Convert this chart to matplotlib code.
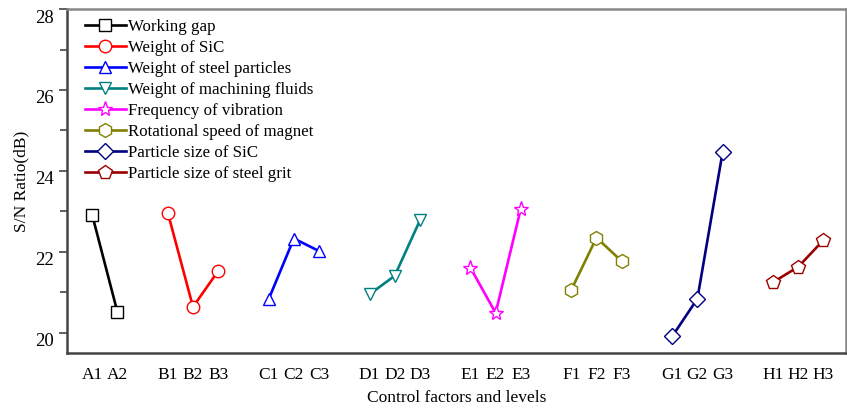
import matplotlib.pyplot as plt
import matplotlib.transforms as mtransforms
from matplotlib.ticker import MultipleLocator

plt.rcParams['font.family'] = ['Liberation Serif', 'DejaVu Serif']

factors = ["Working gap", "Weight of SiC", "Weight of steel particles",
           "Weight of machining fluids", "Frequency of vibration",
           "Rotational speed of magnet", "Particle size of SiC",
           "Particle size of steel grit"]
levels = [["A1", "A2"], ["B1", "B2", "B3"], ["C1", "C2", "C3"], ["D1", "D2", "D3"],
          ["E1", "E2", "E3"], ["F1", "F2", "F3"], ["G1", "G2", "G3"], ["H1", "H2", "H3"]]
sn = [[22.92, 20.52],
      [22.97, 20.64, 21.53],
      [20.83, 22.33, 22.02],
      [20.95, 21.41, 22.78],
      [21.61, 20.49, 23.07],
      [21.06, 22.35, 21.77],
      [19.91, 20.84, 24.46],
      [21.25, 21.63, 22.29]]
colors = ["#000000", "#ff0000", "#0000ff", "#008080", "#ff00ff",
          "#808000", "#000080", "#990000"]
markers = ["s", "o", "^", "v", "*", "h", "D", "p"]

fig = plt.figure(figsize=(8.47, 4.11), dpi=100)
ax = fig.add_axes([0.079, 0.141, 0.92, 0.837])

pos = 0
ticks, ticklabels = [], []
for name, lv, vals, c, m in zip(factors, levels, sn, colors, markers):
    xs = list(range(pos, pos + len(vals)))
    ms = {"*": 11, "h": 10, "p": 10, "D": 8, "s": 8}.get(m, 9)
    ax.plot(xs, vals, color=c, lw=1.9, marker=m, ms=ms, mfc="white",
            mec=c, mew=1.0, label=name)
    ticks += xs
    ticklabels += lv
    pos += len(vals) + 1

ax.set_xlim(-1, 29.9)
ax.set_ylim(19.5, 28)
ax.set_xticks(ticks)
ax.set_xticklabels(ticklabels, fontsize=12.5)
ax.tick_params(axis='x', length=0, pad=10)
ax.yaxis.set_major_locator(MultipleLocator(2))
ax.yaxis.set_minor_locator(MultipleLocator(1))
ax.tick_params(axis='y', which='major', length=6, width=1.2, labelsize=13.5, color="#444444")
ax.tick_params(axis='y', which='minor', length=5, width=1.2, color="#444444")

# y tick labels sit a little below their ticks in the original
shift = mtransforms.ScaledTranslation(0, -0.07, fig.dpi_scale_trans)
for lab in ax.get_yticklabels():
    lab.set_transform(lab.get_transform() + shift)

for s in ["left", "bottom"]:
    ax.spines[s].set_linewidth(1.8)
    ax.spines[s].set_color("#444444")
for s in ["top", "right"]:
    ax.spines[s].set_linewidth(1.8)
    ax.spines[s].set_color("#888888")

ax.set_ylabel("S/N Ratio(dB)", fontsize=12.5, labelpad=4)
ax.set_xlabel("Control factors and levels", fontsize=12.5, labelpad=5)

ax.legend(loc="upper left", frameon=False, fontsize=12.2, handlelength=2.4,
          handletextpad=0.15, labelspacing=0.29, borderaxespad=0.2,
          bbox_to_anchor=(0.01, 1.0))

fig.savefig("out.png", dpi=100)
